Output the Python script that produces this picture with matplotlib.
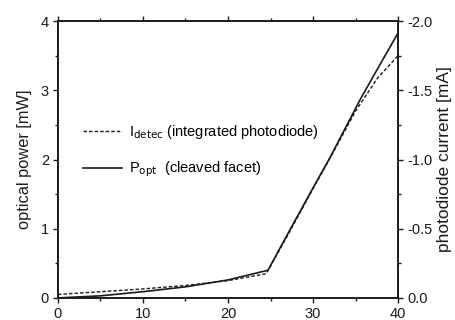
import numpy as np
import matplotlib
matplotlib.use("Agg")
from matplotlib import pyplot as plt
from matplotlib.ticker import MultipleLocator

plt.rcParams['font.family'] = ['Liberation Sans', 'DejaVu Sans']

# laser current [mA] vs optical power [mW]
x_opt = [0, 5, 10, 15, 20, 24.7, 27, 30, 32, 35.6, 38, 40]
p_opt = [0.0, 0.03, 0.09, 0.16, 0.26, 0.40, 0.92, 1.59, 2.03, 2.88, 3.40, 3.83]

# detector current, drawn on the optical power scale
x_det = [0, 5, 10, 15, 20, 24.5, 27, 30, 32, 35, 37.6, 40]
p_det = [0.05, 0.09, 0.13, 0.18, 0.25, 0.35, 0.90, 1.58, 2.02, 2.70, 3.18, 3.50]

fig = plt.figure(figsize=(4.56, 3.2), dpi=100)
ax = fig.add_axes([0.127, 0.069, 0.746, 0.865])

ink = '#1a1a1a'
ax.plot(x_det, p_det, '--', color=ink, lw=1.0, dashes=(2.5, 1.5),
        label=r'I$_{\mathrm{detec}}$ (integrated photodiode)')
ax.plot(x_opt, p_opt, '-', color=ink, lw=1.2,
        label=r'P$_{\mathrm{opt}}$  (cleaved facet)')

ax.set_xlim(0, 40)
ax.set_ylim(0, 4)
ax.xaxis.set_major_locator(MultipleLocator(10))
ax.xaxis.set_minor_locator(MultipleLocator(5))
ax.yaxis.set_major_locator(MultipleLocator(1))
ax.yaxis.set_minor_locator(MultipleLocator(0.5))
ax.tick_params(which='both', labelsize=10.5, width=1.0, color=ink, labelcolor=ink)
ax.tick_params(which='major', length=3.5, pad=3)
ax.tick_params(which='minor', length=2)
ax.tick_params(axis='x', top=True, which='both')
ax.set_ylabel('optical power [mW]', fontsize=11.8, color=ink, labelpad=6)

for s in ax.spines.values():
    s.set_linewidth(1.2)
    s.set_color(ink)

ax2 = ax.twinx()
ax2.set_ylim(0, -2)
ax2.yaxis.set_major_locator(MultipleLocator(0.5))
ax2.yaxis.set_minor_locator(MultipleLocator(0.25))
ax2.yaxis.set_major_formatter(matplotlib.ticker.FormatStrFormatter('%.1f'))
ax2.tick_params(which='both', labelsize=10.5, width=1.0, color=ink, labelcolor=ink)
ax2.tick_params(which='major', length=3.5, pad=3)
ax2.tick_params(which='minor', length=2)
ax2.set_ylabel('photodiode current [mA]', fontsize=12.5, color=ink, rotation=90, labelpad=3)
for s in ax2.spines.values():
    s.set_linewidth(1.2)
    s.set_color(ink)

ax.legend(loc='upper left', bbox_to_anchor=(0.035, 0.68), frameon=False,
          fontsize=10.5, handlelength=2.7, labelspacing=1.3, handletextpad=0.45)

fig.savefig('out.png', dpi=100)
